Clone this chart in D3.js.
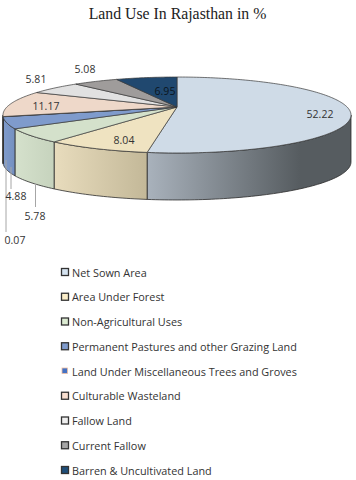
<!DOCTYPE html>
<html>
<head>
    <title>Land Use In Rajasthan in %</title>
    <script src="https://d3js.org/d3.v7.min.js"></script>
    <style>
        html, body { margin: 0; padding: 0; background: #fff; }
        svg { display: block; }
    </style>
</head>
<body>
    <div id="chart"></div>

    <script>
        const categories = ["Net Sown Area", "Area Under Forest", "Non-Agricultural Uses",
            "Permanent Pastures and other Grazing Land", "Land Under Miscellaneous Trees and Groves",
            "Culturable Wasteland", "Fallow Land", "Current Fallow", "Barren & Uncultivated Land"];
        const values = [52.22, 8.04, 5.78, 4.88, 0.07, 11.17, 5.81, 5.08, 6.95];
        const labels = ["52.22", "8.04", "5.78", "4.88", "0.07", "11.17", "5.81", "5.08", "6.95"];
        const labelColors = ["#333", "#333", "#333", "#333", "#333", "#333", "#333", "#333", "#0b1520"];
        const topColors = ["#cfdbe7", "#efe3c1", "#d4e1cb", "#7f9bcc", "#5f84c4", "#eed8c9", "#e1e1e1", "#9f9c9b", "#20486f"];
        const sideLight = ["#a9b2bc", "#e8dcbd", "#d5e1cc", "#7f9bcc", "#5f84c4", "#d8c4b6", "#e1e1e1", "#9f9c9b", "#1d426a"];
        const sideDark = ["#565c60", "#c3b898", "#c6d3bd", "#7490c0", "#5f84c4", "#d8c4b6", "#e1e1e1", "#9f9c9b", "#1d426a"];
        const swatchColors = ["#d5e3f0", "#fbeec9", "#dcebd2", "#7f9bcc", "#4472c4", "#f8dfd0", "#efefef", "#a5a5a5", "#1f4e79"];

        // label spots and leader lines, in page pixels, same order as values
        const labelX = [320, 124, 35, 16, 15, 46, 36, 85, 165];
        const labelY = [114, 140, 216, 196, 240, 106, 79, 69, 91];
        const leaderX = [null, null, 35.5, 11, 6, null, null, null, null];
        const leaderTop = [null, null, 183, 167, 160, null, null, null, null];
        const leaderBottom = [null, null, 207, 189, 232, null, null, null, null];

        const width = 356, height = 480;
        const svg = d3.select("#chart").append("svg")
            .attr("width", width)
            .attr("height", height);

        // tilted disc: circle seen with a bit of perspective, so the front half is deeper than the back
        const cx = 177, cy = 107, k = 0.2105, radiusX = 170.1, radiusY = 36.3, depth = 47;
        function project(a) {
            const u = Math.sin(a), v = -Math.cos(a), w = 1 - k * v;
            return [cx + radiusX * u / w, cy + radiusY * v / w];
        }
        function arcPoints(a0, a1) {
            const n = Math.max(2, Math.ceil((a1 - a0) / 0.02));
            return d3.range(n + 1).map(i => project(a0 + (a1 - a0) * i / n));
        }

        const pie = d3.pie().sort(null)(values);
        const line = d3.line();
        const defs = svg.append("defs");

        // sides only show between the two points where the disc is widest
        const sideStart = Math.acos(-k), sideEnd = 2 * Math.PI - sideStart;

        pie.forEach((d, i) => {
            const a0 = Math.max(d.startAngle, sideStart), a1 = Math.min(d.endAngle, sideEnd);
            if (a1 <= a0) return;
            const pts = arcPoints(a0, a1);
            const lower = pts.map(p => [p[0], p[1] + depth]).reverse();
            const xs = d3.extent(pts, p => p[0]);
            const grad = defs.append("linearGradient")
                .attr("id", "side" + i)
                .attr("gradientUnits", "userSpaceOnUse")
                .attr("x1", xs[0]).attr("x2", xs[1])
                .attr("y1", 0).attr("y2", 0);
            grad.append("stop").attr("offset", 0).attr("stop-color", sideLight[i]);
            grad.append("stop").attr("offset", i === 0 ? 0.75 : 1).attr("stop-color", sideDark[i]);
            svg.append("path")
                .attr("d", line(pts.concat(lower)) + "Z")
                .attr("fill", "url(#side" + i + ")")
                .attr("stroke", "#2b2b2b")
                .attr("stroke-width", 0.8);
        });

        pie.forEach((d, i) => {
            svg.append("path")
                .attr("d", line([[cx, cy]].concat(arcPoints(d.startAngle, d.endAngle))) + "Z")
                .attr("fill", topColors[i])
                .attr("stroke", "#3a3a3a")
                .attr("stroke-width", 0.7)
                .attr("stroke-linejoin", "round");
        });

        leaderX.forEach((x, i) => {
            if (x === null) return;
            svg.append("line")
                .attr("x1", x).attr("x2", x)
                .attr("y1", leaderTop[i]).attr("y2", leaderBottom[i])
                .attr("stroke", "#a6a6a6")
                .attr("stroke-width", 1);
        });

        svg.selectAll("text.value")
            .data(labels)
            .enter()
            .append("text")
            .attr("class", "value")
            .attr("x", (d, i) => labelX[i])
            .attr("y", (d, i) => labelY[i])
            .attr("text-anchor", "middle")
            .attr("dominant-baseline", "central")
            .attr("font-family", "'Open Sans', 'Noto Sans', sans-serif")
            .attr("font-size", 10.5)
            .attr("fill", (d, i) => labelColors[i])
            .text(d => d);

        svg.append("text")
            .attr("x", 177.5)
            .attr("y", 18.5)
            .attr("text-anchor", "middle")
            .attr("font-family", "'Liberation Serif', serif")
            .attr("font-size", 15.8)
            .attr("fill", "#222")
            .text("Land Use In Rajasthan in %");

        const legendY = d3.scalePoint()
            .domain(categories)
            .range([272, 470]);

        const rows = svg.selectAll("g.row")
            .data(categories)
            .enter()
            .append("g")
            .attr("class", "row")
            .attr("transform", d => "translate(0," + legendY(d) + ")");

        rows.append("rect")
            .attr("x", (d, i) => i === 4 ? 62 : 61.5)
            .attr("y", (d, i) => i === 4 ? -3 : -3.5)
            .attr("width", (d, i) => i === 4 ? 5.5 : 7)
            .attr("height", (d, i) => i === 4 ? 5.5 : 7)
            .attr("fill", (d, i) => swatchColors[i])
            .attr("stroke", (d, i) => i === 4 ? "#eebfa3" : "#333")
            .attr("stroke-width", (d, i) => i === 4 ? 0.8 : 1.3);

        rows.append("text")
            .attr("x", 72)
            .attr("dominant-baseline", "central")
            .attr("font-family", "'Open Sans', 'Noto Sans', sans-serif")
            .attr("font-size", 10.85)
            .attr("fill", "#333")
            .text(d => d);
    </script>
</body>
</html>
